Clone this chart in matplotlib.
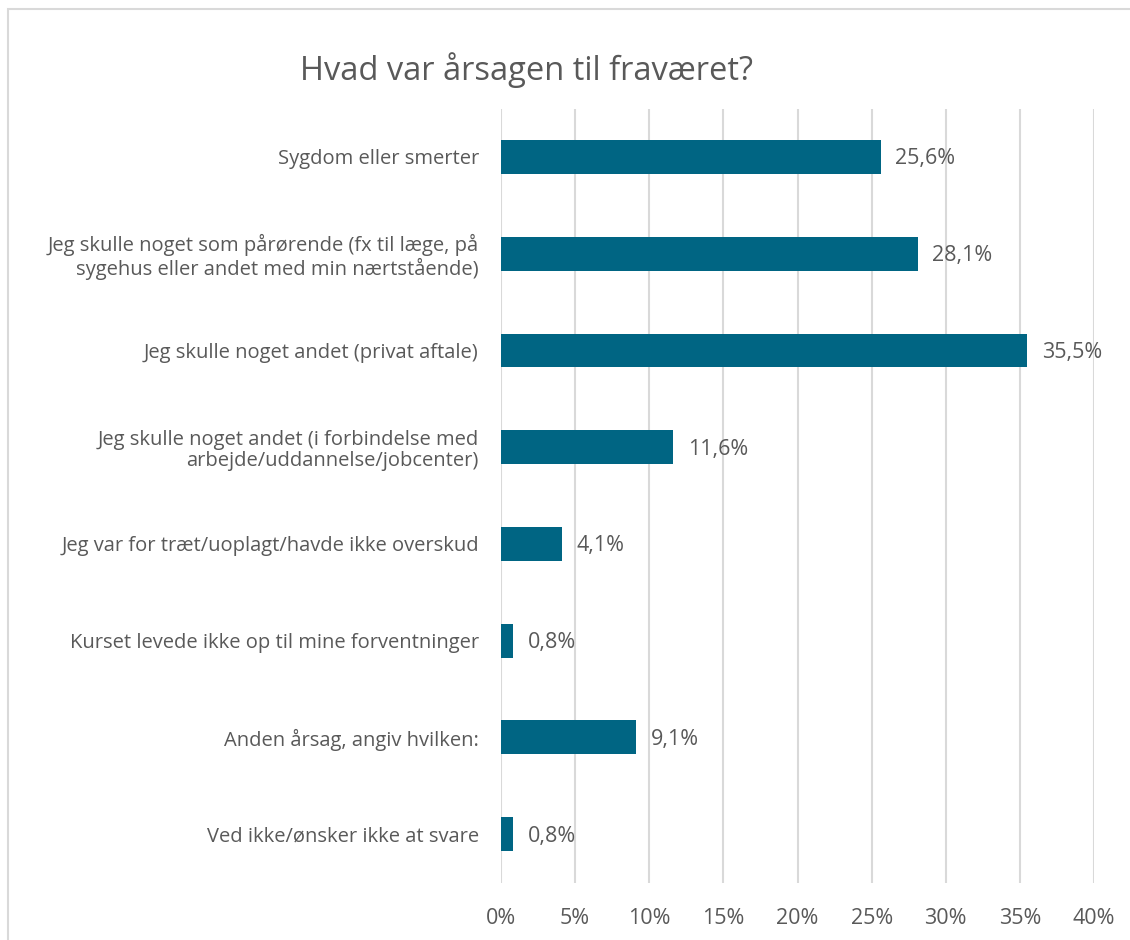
import numpy as np
import matplotlib.pyplot as plt
from matplotlib.patches import Rectangle

# Survey answers: reason for absence
categories = [
    "Sygdom eller smerter",
    "Jeg skulle noget som pårørende (fx til læge, på\nsygehus eller andet med min nærtstående)",
    "Jeg skulle noget andet (privat aftale)",
    "Jeg skulle noget andet (i forbindelse med\narbejde/uddannelse/jobcenter)",
    "Jeg var for træt/uoplagt/havde ikke overskud",
    "Kurset levede ikke op til mine forventninger",
    "Anden årsag, angiv hvilken:",
    "Ved ikke/ønsker ikke at svare",
]
shares = [25.6, 28.1, 35.5, 11.6, 4.1, 0.8, 9.1, 0.8]
ticks = [0, 5, 10, 15, 20, 25, 30, 35, 40]

BAR = "#006583"
TXT = "#595959"
GRID = "#d9d9d9"

plt.rcParams['font.family'] = ['Open Sans', 'DejaVu Sans']

W, H = 1130, 940
fig = plt.figure(figsize=(W / 100, H / 100), dpi=100)

# chart frame (runs past the right and bottom edges)
fig.patches.append(Rectangle((8 / W, -0.2), 1.2, 1.2 - 9 / H, transform=fig.transFigure,
                             fill=False, edgecolor=GRID, linewidth=1.5))

ax = fig.add_axes([501 / W, 1 - 882.5 / H, (1094 - 501) / W, (882.5 - 108.6) / H])
y = np.arange(len(categories))
ax.barh(y, shares, height=0.35, color=BAR, zorder=3)
ax.set_ylim(len(categories) - 0.5, -0.5)
ax.set_xlim(0, 40)

for yi, v in zip(y, shares):
    ax.text(v + 1.0, yi + 0.02, f"{v:.1f}".replace(".", ",") + "%", va="center", ha="left",
            fontsize=15.5, color=TXT)

ax.set_yticks(y)
ax.set_yticklabels(categories, fontsize=14.5, color=TXT, linespacing=1.1)
ax.tick_params(axis="y", length=0, pad=16)

ax.set_xticks(ticks)
ax.set_xticklabels([f"{t}%" for t in ticks], fontsize=15.5, color=TXT)
ax.tick_params(axis="x", length=0, pad=18)
ax.grid(axis="x", color=GRID, linewidth=1.5, zorder=0)
for s in ax.spines.values():
    s.set_visible(False)

fig.text(527 / W, 1 - 70 / H, "Hvad var årsagen til fraværet?", ha="center", va="center",
         fontsize=23.5, color=TXT)

fig.savefig("out.png", dpi=100)
